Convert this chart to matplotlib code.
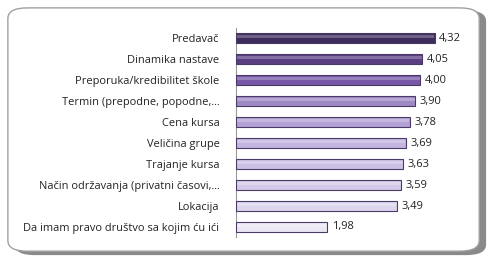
import matplotlib.pyplot as plt
from matplotlib.patches import FancyBboxPatch

# factors and average scores (top to bottom)
labels = ['Predavač', 'Dinamika nastave', 'Preporuka/kredibilitet škole',
          'Termin (prepodne, popodne,...', 'Cena kursa', 'Veličina grupe',
          'Trajanje kursa', 'Način održavanja (privatni časovi,...',
          'Lokacija', 'Da imam pravo društvo sa kojim ću ići']
scores = [4.32, 4.05, 4.00, 3.90, 3.78, 3.69, 3.63, 3.59, 3.49, 1.98]
value_text = ['4,32', '4,05', '4,00', '3,90', '3,78', '3,69', '3,63', '3,59', '3,49', '1,98']

colors = ['#3e2d5c', '#5a3f82', '#7858a8', '#a08ac6', '#b4a2d6',
          '#c3b5df', '#ccc0e4', '#d3c9e8', '#ddd5ee', '#ece7f5']

plt.rcParams['font.family'] = ['Open Sans', 'DejaVu Sans']

fig = plt.figure(figsize=(4.92, 2.63), dpi=100)

# shadow + rounded frame
shadow = FancyBboxPatch((0.03, 0.03), 0.958, 0.93, boxstyle='round,pad=0,rounding_size=0.04',
                        transform=fig.transFigure, facecolor='#8a8a8a', edgecolor='none', zorder=0)
frame = FancyBboxPatch((0.016, 0.045), 0.958, 0.925, boxstyle='round,pad=0,rounding_size=0.04',
                       transform=fig.transFigure, facecolor='white', edgecolor='#a0a0a0',
                       linewidth=1.0, zorder=1)
fig.patches.extend([shadow, frame])

ax = fig.add_axes([0.48, 0.097, 0.467, 0.798])
ax.set_zorder(2)
ax.patch.set_alpha(0)

y = list(range(len(labels)))
ax.barh(y, scores, height=0.46, color=colors, edgecolor='#4a3b66', linewidth=0.8, zorder=3)
# light stripe for a tube look
ax.barh([v - 0.08 for v in y], [s - 0.03 for s in scores], height=0.12, left=0.02,
        color='white', alpha=0.25, linewidth=0, zorder=4)

for yi, s, t in zip(y, scores, value_text):
    ax.text(s + 0.1, yi, t, va='center', ha='left', fontsize=8, color='#222222')

ax.set_xlim(0, 5)
ax.set_ylim(len(labels) - 0.5, -0.5)
ax.set_yticks(y)
ax.set_yticklabels(labels, fontsize=7.9, color='#222222')
ax.tick_params(axis='y', length=0, pad=12)
ax.set_xticks([])
for side in ['top', 'right', 'bottom']:
    ax.spines[side].set_visible(False)
ax.spines['left'].set_color('#999999')
ax.spines['left'].set_linewidth(0.8)

fig.savefig('out.png', dpi=100)
